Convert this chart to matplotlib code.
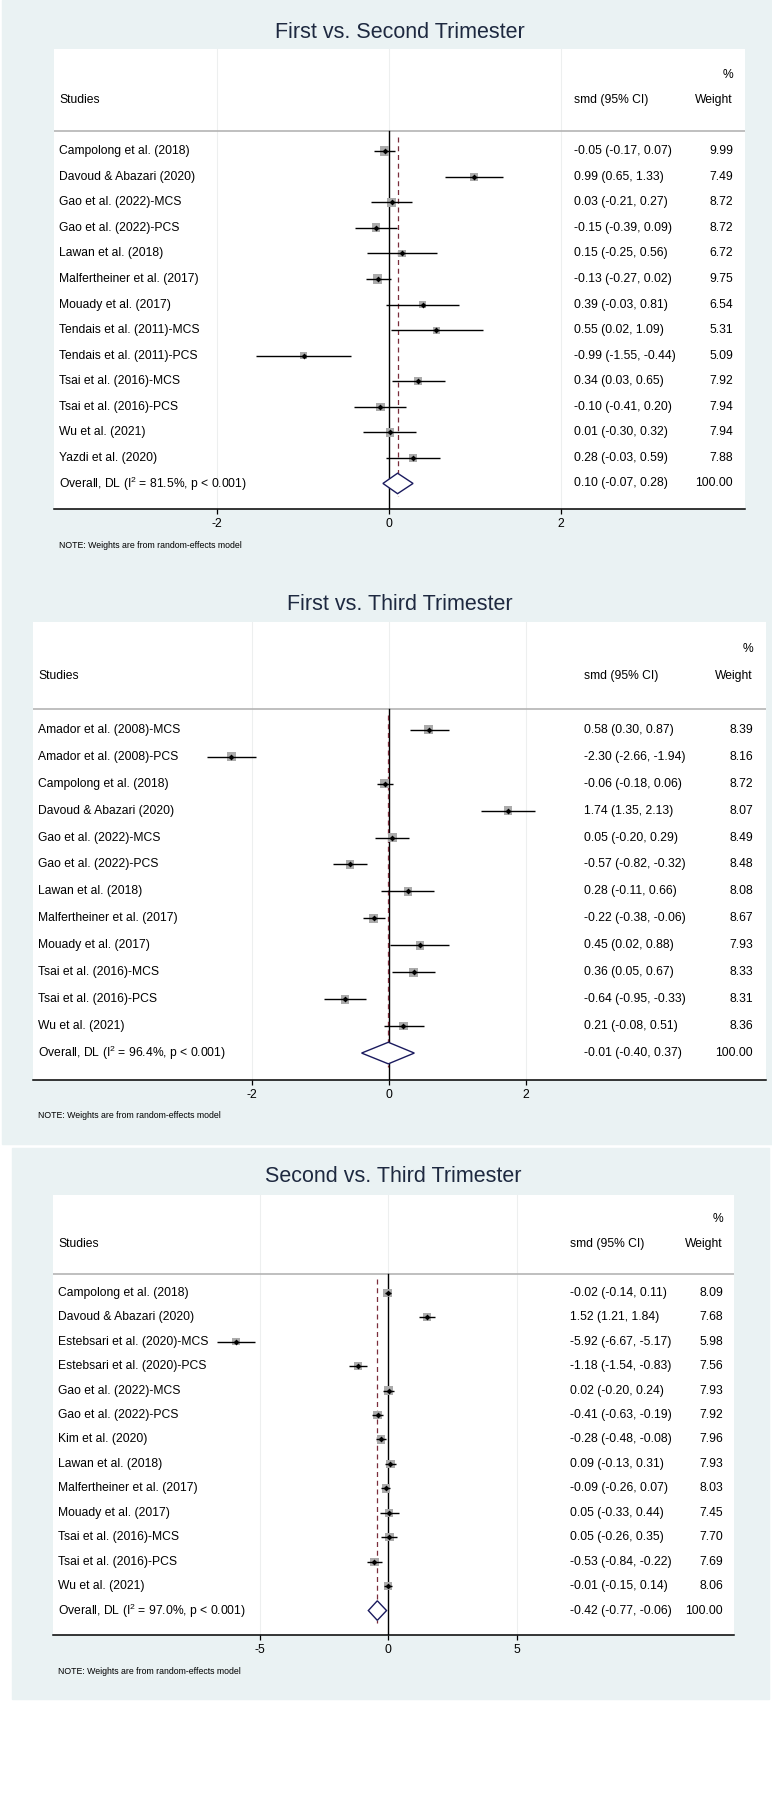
import numpy as np
import matplotlib
matplotlib.use("Agg")
import matplotlib.pyplot as plt
from matplotlib.patches import Rectangle, Polygon
from matplotlib import transforms

plt.rcParams['font.family'] = ['Liberation Sans', 'DejaVu Sans']
plt.rcParams['mathtext.fontset'] = 'custom'
plt.rcParams['mathtext.rm'] = 'Liberation Sans'

# ---- данные: первый vs второй триместр
studies1 = ["Campolong et al. (2018)", "Davoud & Abazari (2020)", "Gao et al. (2022)-MCS",
            "Gao et al. (2022)-PCS", "Lawan et al. (2018)", "Malfertheiner et al. (2017)",
            "Mouady et al. (2017)", "Tendais et al. (2011)-MCS", "Tendais et al. (2011)-PCS",
            "Tsai et al. (2016)-MCS", "Tsai et al. (2016)-PCS", "Wu et al. (2021)", "Yazdi et al. (2020)"]
est1 = [-0.05, 0.99, 0.03, -0.15, 0.15, -0.13, 0.39, 0.55, -0.99, 0.34, -0.10, 0.01, 0.28]
lo1 = [-0.17, 0.65, -0.21, -0.39, -0.25, -0.27, -0.03, 0.02, -1.55, 0.03, -0.41, -0.30, -0.03]
hi1 = [0.07, 1.33, 0.27, 0.09, 0.56, 0.02, 0.81, 1.09, -0.44, 0.65, 0.20, 0.32, 0.59]
w1 = [9.99, 7.49, 8.72, 8.72, 6.72, 9.75, 6.54, 5.31, 5.09, 7.92, 7.94, 7.94, 7.88]
overall1 = (0.10, -0.07, 0.28, "81.5%")

# ---- первый vs третий триместр
studies2 = ["Amador et al. (2008)-MCS", "Amador et al. (2008)-PCS", "Campolong et al. (2018)",
            "Davoud & Abazari (2020)", "Gao et al. (2022)-MCS", "Gao et al. (2022)-PCS",
            "Lawan et al. (2018)", "Malfertheiner et al. (2017)", "Mouady et al. (2017)",
            "Tsai et al. (2016)-MCS", "Tsai et al. (2016)-PCS", "Wu et al. (2021)"]
est2 = [0.58, -2.30, -0.06, 1.74, 0.05, -0.57, 0.28, -0.22, 0.45, 0.36, -0.64, 0.21]
lo2 = [0.30, -2.66, -0.18, 1.35, -0.20, -0.82, -0.11, -0.38, 0.02, 0.05, -0.95, -0.08]
hi2 = [0.87, -1.94, 0.06, 2.13, 0.29, -0.32, 0.66, -0.06, 0.88, 0.67, -0.33, 0.51]
w2 = [8.39, 8.16, 8.72, 8.07, 8.49, 8.48, 8.08, 8.67, 7.93, 8.33, 8.31, 8.36]
overall2 = (-0.01, -0.40, 0.37, "96.4%")

# ---- второй vs третий триместр
studies3 = ["Campolong et al. (2018)", "Davoud & Abazari (2020)", "Estebsari et al. (2020)-MCS",
            "Estebsari et al. (2020)-PCS", "Gao et al. (2022)-MCS", "Gao et al. (2022)-PCS",
            "Kim et al. (2020)", "Lawan et al. (2018)", "Malfertheiner et al. (2017)",
            "Mouady et al. (2017)", "Tsai et al. (2016)-MCS", "Tsai et al. (2016)-PCS", "Wu et al. (2021)"]
est3 = [-0.02, 1.52, -5.92, -1.18, 0.02, -0.41, -0.28, 0.09, -0.09, 0.05, 0.05, -0.53, -0.01]
lo3 = [-0.14, 1.21, -6.67, -1.54, -0.20, -0.63, -0.48, -0.13, -0.26, -0.33, -0.26, -0.84, -0.15]
hi3 = [0.11, 1.84, -5.17, -0.83, 0.24, -0.19, -0.08, 0.31, 0.07, 0.44, 0.35, -0.22, 0.14]
w3 = [8.09, 7.68, 5.98, 7.56, 7.93, 7.92, 7.96, 7.93, 8.03, 7.45, 7.70, 7.69, 8.06]
overall3 = (-0.42, -0.77, -0.06, "97.0%")

W, H = 772, 1800
BG = '#EAF2F3'
fig = plt.figure(figsize=(W / 100, H / 100), dpi=100)

def px_rect(x0, y0, x1, y1):
    return [x0 / W, 1 - y1 / H, (x1 - x0) / W, (y1 - y0) / H]

fig.add_artist(Rectangle((2 / W, 1 - 1144 / H), 770 / W, 1144 / H,
                         transform=fig.transFigure, color=BG, zorder=0))
fig.add_artist(Rectangle((12 / W, 1 - 1699 / H), 757 / W, 551 / H,
                         transform=fig.transFigure, color=BG, zorder=0))


def fmt(v):
    return f"{v:.2f}"


def panel(title, title_xy, box, xlim, ticks, studies, est, lo, hi, w, overall, cols):
    x0, y0, x1, y1 = box
    ax = fig.add_axes(px_rect(x0, y0, x1, y1))
    ax.set_facecolor('white')
    n = len(studies) + 1
    ax.set_xlim(*xlim)
    ax.set_ylim(n, -4)
    for s in ['top', 'left', 'right']:
        ax.spines[s].set_visible(False)
    ax.spines['bottom'].set_linewidth(1.1)
    ax.set_yticks([])
    ax.set_xticks(ticks)
    ax.set_xticklabels([str(t) for t in ticks], fontsize=8.8)
    ax.tick_params(axis='x', direction='out', length=3.5, width=0.9, pad=3)

    for t in ticks:
        ax.axvline(t, color='#EDEFEF', lw=0.8, zorder=0)
    ax.axhline(-0.78, color='#B4B4B4', lw=1.2, zorder=1)

    ov, ovlo, ovhi, i2 = overall
    ax.plot([0, 0], [-0.78, n], color='black', lw=1.0, zorder=2)
    ax.plot([ov, ov], [-0.55, n - 0.5], color='#7B2D3B', lw=0.9,
            linestyle=(0, (4, 3)), zorder=3)

    y = np.arange(len(studies))
    ax.hlines(y, lo, hi, color='black', lw=1.0, zorder=4)
    side = 3.0 * np.sqrt(np.array(w)) * 0.72
    ax.scatter(est, y, marker='s', s=side ** 2, color='#ABABAB', lw=0, zorder=3)
    ax.scatter(est, y, marker='D', s=9, color='black', lw=0, zorder=5)

    k = len(studies)
    ax.add_patch(Polygon([(ovlo, k), (ov, k - 0.4), (ovhi, k), (ov, k + 0.4)],
                         closed=True, facecolor='white', edgecolor='#1A1A5E', lw=1.0, zorder=4))

    tr = transforms.blended_transform_factory(fig.transFigure, ax.transData)
    xs, xc, xw = cols
    fs = 8.7
    ax.text(xs / W, -2, "Studies", transform=tr, fontsize=fs, va='center', ha='left')
    ax.text(xc / W, -2, "smd (95% CI)", transform=tr, fontsize=fs, va='center', ha='left')
    ax.text(xw / W, -2, "Weight", transform=tr, fontsize=fs, va='center', ha='right')
    ax.text(xw / W, -3, "%", transform=tr, fontsize=fs, va='center', ha='right')
    for i, s in enumerate(studies):
        ax.text(xs / W, i, s, transform=tr, fontsize=fs, va='center', ha='left')
        ax.text(xc / W, i, f"{fmt(est[i])} ({fmt(lo[i])}, {fmt(hi[i])})",
                transform=tr, fontsize=fs, va='center', ha='left')
        ax.text(xw / W, i, fmt(w[i]), transform=tr, fontsize=fs, va='center', ha='right')
    ax.text(xs / W, k, "Overall, DL (I$^2$ = " + i2 + ", p < 0.001)",
            transform=tr, fontsize=fs, va='center', ha='left')
    ax.text(xc / W, k, f"{fmt(ov)} ({fmt(ovlo)}, {fmt(ovhi)})",
            transform=tr, fontsize=fs, va='center', ha='left')
    ax.text(xw / W, k, "100.00", transform=tr, fontsize=fs, va='center', ha='right')

    fig.text(xs / W, 1 - (y1 + 36) / H, "NOTE: Weights are from random-effects model",
             fontsize=6.3, va='center', ha='left')
    fig.text(title_xy[0] / W, 1 - title_xy[1] / H, title, fontsize=15.5,
             color='#1E2940', va='center', ha='center')
    return ax


panel("First vs. Second Trimester", (400, 32), (54, 49, 745, 509),
      (-3.895, 4.14), [-2, 0, 2], studies1, est1, lo1, hi1, w1, overall1, (59, 574, 733))
panel("First vs. Third Trimester", (400, 604), (33, 622, 766, 1080),
      (-5.197, 5.504), [-2, 0, 2], studies2, est2, lo2, hi2, w2, overall2, (38, 584, 753))
panel("Second vs. Third Trimester", (393, 1177), (53, 1195, 734, 1635),
      (-13.04, 13.46), [-5, 0, 5], studies3, est3, lo3, hi3, w3, overall3, (58, 570, 723))

fig.savefig("out.png", dpi=100, facecolor='white')
